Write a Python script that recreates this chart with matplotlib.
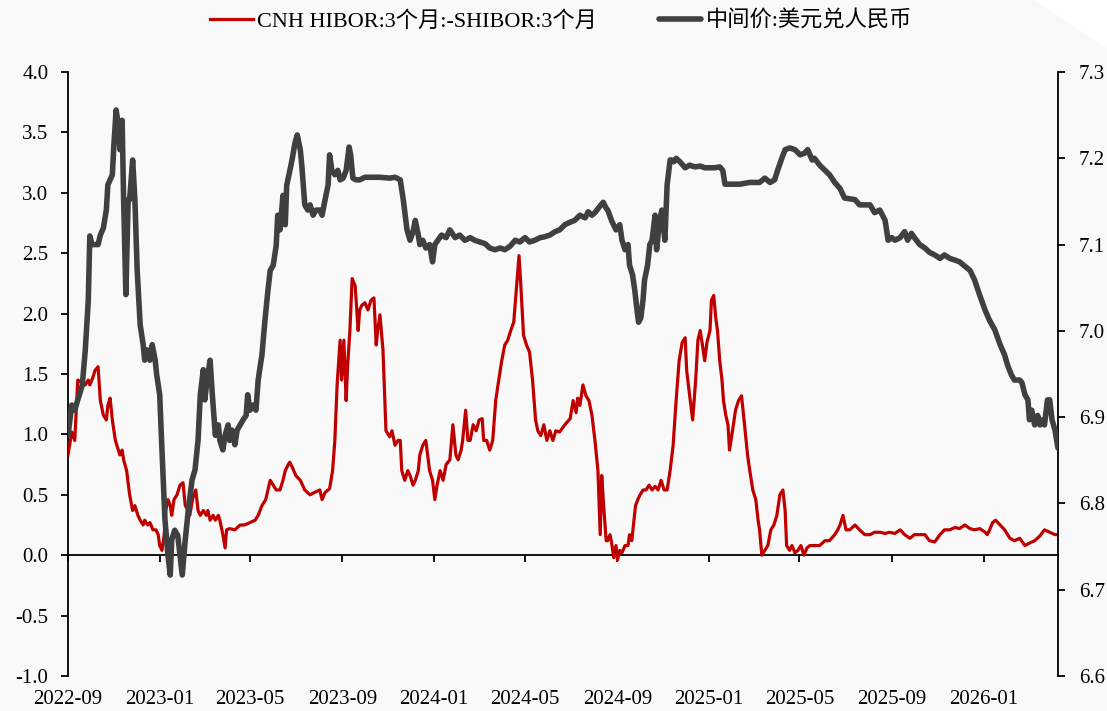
import matplotlib
matplotlib.use("Agg")
import matplotlib.pyplot as plt
import matplotlib.dates as mdates
from matplotlib.patches import Polygon
import pandas as pd

plt.rcParams['font.family'] = ['Liberation Serif', 'Noto Sans CJK SC', 'DejaVu Sans']
plt.rcParams['axes.unicode_minus'] = False

start_date = "2022-09-01"
end_offset = 1317

# Spread series: CNH HIBOR 3M - SHIBOR 3M (left axis); offsets in days from start_date
spread_days = [0, 5, 9, 13, 19, 23, 27, 29, 33, 36, 40, 43, 47, 51, 53, 56, 59, 63, 67, 69, 72, 74, 78, 82, 86, 89, 93, 96,
               100, 102, 106, 109, 113, 117, 120, 122, 125, 128, 130, 133, 136, 138, 141, 145, 149, 153, 156, 160, 162,
               166, 170, 173, 176, 180, 184, 186, 189, 193, 196, 200, 202, 206, 209, 211, 215, 222, 229, 235, 242, 249,
               253, 258, 263, 266, 269, 273, 277, 282, 286, 289, 293, 295, 299, 303, 309, 315, 322, 328, 335, 338, 342,
               348, 352, 355, 358, 362, 364, 367, 370, 372, 375, 378, 382, 386, 388, 391, 395, 399, 403, 407, 410, 412,
               415, 419, 423, 428, 431, 435, 439, 442, 444, 448, 452, 455, 459, 462, 466, 468, 472, 476, 481, 485, 488,
               491, 495, 499, 503, 508, 512, 516, 519, 523, 525, 529, 532, 535, 539, 543, 547, 551, 553, 557, 561, 565,
               569, 573, 577, 581, 585, 589, 593, 597, 600, 602, 606, 610, 614, 618, 622, 625, 629, 633, 637, 641, 645,
               649, 654, 661, 668, 672, 676, 678, 681, 685, 689, 693, 697, 701, 705, 708, 710, 713, 716, 718, 721, 723,
               726, 729, 731, 734, 737, 741, 745, 747, 750, 753, 755, 758, 761, 765, 769, 773, 777, 781, 785, 789, 793,
               797, 801, 805, 809, 813, 817, 821, 823, 827, 831, 835, 838, 841, 844, 847, 850, 854, 856, 859, 862, 864,
               867, 870, 872, 875, 878, 880, 884, 888, 892, 896, 900, 904, 907, 911, 915, 918, 920, 923, 927, 931, 935,
               939, 943, 947, 951, 954, 956, 960, 963, 967, 971, 975, 979, 983, 987, 993, 1000, 1007, 1013, 1020, 1024,
               1027, 1031, 1035, 1040, 1047, 1053, 1060, 1067, 1073, 1080, 1087, 1093, 1100, 1107, 1113, 1120, 1126,
               1133, 1140, 1146, 1153, 1160, 1166, 1173, 1180, 1186, 1193, 1200, 1206, 1213, 1220, 1223, 1226, 1230,
               1234, 1240, 1246, 1253, 1259, 1266, 1273, 1279, 1286, 1293, 1299, 1306, 1313, 1317]
spread_vals = [0.83, 1.02, 0.95, 1.45, 1.43, 1.41, 1.45, 1.41, 1.47, 1.53, 1.56, 1.28, 1.16, 1.12, 1.24, 1.30, 1.12, 0.95,
               0.87, 0.83, 0.87, 0.79, 0.70, 0.50, 0.37, 0.41, 0.33, 0.29, 0.25, 0.29, 0.25, 0.27, 0.21, 0.21, 0.17, 0.08,
               0.04, 0.17, 0.37, 0.46, 0.41, 0.33, 0.46, 0.50, 0.58, 0.60, 0.41, 0.37, 0.33, 0.47, 0.54, 0.37, 0.33, 0.37,
               0.33, 0.37, 0.29, 0.33, 0.29, 0.33, 0.29, 0.17, 0.06, 0.21, 0.22, 0.21, 0.25, 0.25, 0.27, 0.29, 0.33, 0.41,
               0.46, 0.54, 0.62, 0.58, 0.54, 0.54, 0.62, 0.70, 0.75, 0.77, 0.72, 0.66, 0.62, 0.54, 0.50, 0.52, 0.54, 0.46,
               0.52, 0.55, 0.70, 0.95, 1.41, 1.78, 1.45, 1.78, 1.28, 1.57, 1.86, 2.29, 2.23, 1.86, 2.03, 2.07, 2.09, 2.03,
               2.11, 2.13, 1.74, 1.86, 1.99, 1.70, 1.03, 0.98, 1.03, 0.91, 0.95, 0.95, 0.70, 0.62, 0.70, 0.66, 0.58, 0.62,
               0.70, 0.83, 0.91, 0.95, 0.70, 0.62, 0.46, 0.58, 0.70, 0.62, 0.75, 0.79, 1.08, 0.83, 0.79, 0.87, 0.95, 1.20,
               0.95, 0.95, 1.08, 1.03, 1.12, 1.13, 0.95, 0.95, 0.87, 0.95, 1.28, 1.45, 1.61, 1.74, 1.78, 1.86, 1.93, 2.24,
               2.48, 2.28, 1.82, 1.74, 1.68, 1.45, 1.12, 1.03, 0.99, 1.08, 0.95, 1.03, 0.95, 1.03, 1.02, 1.08, 1.13, 1.28,
               1.18, 1.30, 1.24, 1.41, 1.32, 1.28, 1.16, 0.95, 0.70, 0.17, 0.66, 0.37, 0.12, 0.12, 0.17, 0.11, -0.02, 0.08,
               -0.04, 0.04, 0.02, 0.08, 0.08, 0.17, 0.12, 0.29, 0.41, 0.46, 0.50, 0.54, 0.54, 0.58, 0.54, 0.57, 0.54, 0.62,
               0.54, 0.54, 0.70, 0.91, 1.28, 1.61, 1.76, 1.80, 1.53, 1.32, 1.12, 1.45, 1.78, 1.86, 1.74, 1.61, 1.76, 1.86,
               2.11, 2.15, 1.95, 1.86, 1.61, 1.45, 1.28, 1.16, 1.08, 0.87, 1.03, 1.20, 1.28, 1.32, 1.08, 0.83, 0.70, 0.54,
               0.46, 0.29, 0.21, 0.00, 0.04, 0.08, 0.21, 0.25, 0.33, 0.50, 0.54, 0.37, 0.08, 0.04, 0.08, 0.02, 0.04, 0.08,
               0.00, 0.06, 0.08, 0.08, 0.08, 0.12, 0.12, 0.17, 0.21, 0.25, 0.33, 0.21, 0.21, 0.25, 0.21, 0.17, 0.17, 0.19,
               0.19, 0.18, 0.19, 0.18, 0.21, 0.17, 0.14, 0.17, 0.17, 0.17, 0.12, 0.11, 0.17, 0.21, 0.21, 0.23, 0.22, 0.25,
               0.22, 0.21, 0.22, 0.19, 0.17, 0.21, 0.27, 0.29, 0.25, 0.21, 0.14, 0.12, 0.14, 0.08, 0.10, 0.12, 0.16, 0.21,
               0.19, 0.17, 0.17]

# USD/CNY central parity (right axis)
usd_days = [0, 5, 9, 13, 19, 23, 27, 29, 32, 40, 43, 47, 51, 53, 59, 61, 64, 67, 69, 72, 74, 77, 80, 82, 86, 89, 92, 96,
            100, 102, 105, 109, 112, 116, 118, 122, 125, 129, 133, 136, 138, 142, 146, 149, 152, 156, 160, 165, 169, 173,
            176, 180, 182, 185, 189, 192, 196, 200, 202, 206, 209, 213, 215, 218, 222, 225, 229, 233, 237, 239, 242, 246,
            250, 253, 255, 258, 262, 266, 269, 273, 277, 279, 282, 286, 289, 291, 294, 298, 302, 305, 309, 311, 315, 319,
            322, 326, 330, 335, 338, 342, 346, 348, 351, 355, 359, 362, 366, 370, 374, 376, 379, 383, 388, 395, 402, 415,
            428, 435, 442, 446, 451, 455, 459, 462, 466, 468, 472, 476, 481, 485, 488, 492, 497, 503, 508, 515, 521, 528,
            535, 541, 548, 555, 561, 568, 575, 581, 588, 595, 601, 608, 614, 621, 628, 634, 641, 648, 654, 661, 668, 674,
            681, 688, 692, 697, 701, 708, 712, 716, 718, 723, 729, 734, 737, 741, 745, 747, 751, 754, 757, 759, 762, 765,
            767, 771, 774, 777, 781, 783, 787, 790, 794, 797, 801, 803, 806, 809, 814, 821, 827, 834, 841, 847, 854, 860,
            867, 871, 874, 880, 894, 900, 907, 914, 920, 927, 934, 940, 944, 950, 954, 960, 967, 974, 980, 984, 990, 993,
            1000, 1007, 1013, 1020, 1027, 1033, 1040, 1047, 1053, 1060, 1067, 1073, 1080, 1087, 1091, 1096, 1100, 1107,
            1113, 1117, 1122, 1126, 1133, 1140, 1146, 1153, 1160, 1166, 1173, 1180, 1186, 1193, 1200, 1206, 1213, 1220,
            1226, 1233, 1240, 1246, 1250, 1255, 1259, 1266, 1269, 1273, 1277, 1279, 1282, 1286, 1290, 1293, 1297, 1299,
            1303, 1306, 1309, 1313, 1317]
usd_vals = [6.879, 6.914, 6.908, 6.920, 6.937, 6.978, 7.036, 7.110, 7.100, 7.100, 7.111, 7.119, 7.140, 7.169, 7.181, 7.215,
            7.256, 7.238, 7.210, 7.244, 7.152, 7.042, 7.152, 7.152, 7.198, 7.152, 7.071, 7.007, 6.984, 6.966, 6.978, 6.966,
            6.984, 6.966, 6.949, 6.926, 6.862, 6.781, 6.740, 6.717, 6.758, 6.769, 6.763, 6.740, 6.717, 6.758, 6.792, 6.827,
            6.839, 6.873, 6.926, 6.955, 6.920, 6.943, 6.966, 6.926, 6.879, 6.891, 6.873, 6.862, 6.879, 6.891, 6.873, 6.885,
            6.868, 6.885, 6.891, 6.897, 6.902, 6.926, 6.908, 6.914, 6.908, 6.943, 6.955, 6.972, 7.012, 7.047, 7.070, 7.076,
            7.099, 7.134, 7.117, 7.157, 7.123, 7.169, 7.181, 7.198, 7.218, 7.227, 7.210, 7.192, 7.146, 7.140, 7.146, 7.134,
            7.140, 7.140, 7.134, 7.152, 7.169, 7.204, 7.186, 7.181, 7.186, 7.175, 7.177, 7.186, 7.213, 7.204, 7.177, 7.175,
            7.175, 7.178, 7.178, 7.178, 7.177, 7.178, 7.175, 7.152, 7.117, 7.105, 7.115, 7.128, 7.111, 7.100, 7.105, 7.096,
            7.100, 7.080, 7.100, 7.105, 7.111, 7.108, 7.117, 7.108, 7.111, 7.105, 7.108, 7.105, 7.103, 7.101, 7.096, 7.094,
            7.096, 7.094, 7.098, 7.105, 7.103, 7.108, 7.103, 7.105, 7.108, 7.109, 7.111, 7.115, 7.117, 7.123, 7.126, 7.128,
            7.134, 7.131, 7.138, 7.134, 7.137, 7.145, 7.149, 7.142, 7.140, 7.128, 7.117, 7.123, 7.105, 7.094, 7.100, 7.076,
            7.065, 7.047, 7.024, 7.010, 7.015, 7.036, 7.059, 7.076, 7.100, 7.105, 7.134, 7.094, 7.128, 7.140, 7.105, 7.169,
            7.198, 7.198, 7.196, 7.200, 7.196, 7.189, 7.192, 7.190, 7.191, 7.189, 7.189, 7.189, 7.190, 7.186, 7.170, 7.170,
            7.170, 7.171, 7.172, 7.172, 7.172, 7.177, 7.172, 7.175, 7.186, 7.201, 7.210, 7.212, 7.210, 7.204, 7.206, 7.210,
            7.198, 7.200, 7.192, 7.186, 7.181, 7.172, 7.165, 7.154, 7.153, 7.152, 7.146, 7.146, 7.146, 7.137, 7.140, 7.128,
            7.105, 7.108, 7.105, 7.108, 7.115, 7.105, 7.113, 7.108, 7.100, 7.096, 7.091, 7.088, 7.084, 7.088, 7.084, 7.082,
            7.080, 7.075, 7.070, 7.059, 7.041, 7.024, 7.012, 7.001, 6.984, 6.972, 6.960, 6.949, 6.943, 6.943, 6.940, 6.926,
            6.920, 6.897, 6.908, 6.891, 6.902, 6.891, 6.897, 6.891, 6.920, 6.920, 6.897, 6.885, 6.864]

series_names = ["CNH HIBOR:3个月:-SHIBOR:3个月", "中间价:美元兑人民币"]
left_ticks = [-1.0, -0.5, 0.0, 0.5, 1.0, 1.5, 2.0, 2.5, 3.0, 3.5, 4.0]
right_ticks = [6.6, 6.7, 6.8, 6.9, 7.0, 7.1, 7.2, 7.3]
x_tick_dates = ["2022-09", "2023-01", "2023-05", "2023-09", "2024-01", "2024-05", "2024-09",
                "2025-01", "2025-05", "2025-09", "2026-01"]

base = pd.Timestamp(start_date)
spread_x = base + pd.to_timedelta(spread_days, unit="D")
usd_x = base + pd.to_timedelta(usd_days, unit="D")
xt = pd.to_datetime([d + "-01" for d in x_tick_dates])

bg = "#f9f9f9"
fig = plt.figure(figsize=(11.07, 7.11), dpi=100, facecolor=bg)
fig.patches.append(Polygon([[1035 / 1107, 1.0], [1.0, 1.0], [1.0, 1 - 48 / 711]], closed=True,
                           transform=fig.transFigure, facecolor="white", edgecolor="none", zorder=0))
ax = fig.add_axes([68 / 1107, 35 / 711, 990 / 1107, 604 / 711])
ax.set_facecolor("none")
ax2 = ax.twinx()

red = "#c00000"
dark = "#404040"
l1, = ax.plot(spread_x, spread_vals, color=red, lw=2.3, solid_joinstyle="round", zorder=3)
l2, = ax2.plot(usd_x, usd_vals, color=dark, lw=4.0, solid_joinstyle="round", solid_capstyle="round", zorder=3)

ax.set_xlim(base, base + pd.Timedelta(days=end_offset))
ax.set_ylim(-1.0, 4.0)
ax2.set_ylim(6.6, 7.3)
ax.set_yticks(left_ticks)
ax.set_yticklabels([f"{v:.1f}" for v in left_ticks])
ax2.set_yticks(right_ticks)
ax2.set_yticklabels([f"{v:.1f}" for v in right_ticks])

for a in (ax, ax2):
    for s in ("top", "bottom"):
        a.spines[s].set_visible(False)
ax.spines["right"].set_visible(False)
ax2.spines["left"].set_visible(False)
ax.spines["left"].set_linewidth(1.3)
ax2.spines["right"].set_linewidth(1.3)

ax.tick_params(axis="y", direction="out", length=5, width=1.3, labelsize=15, pad=9, colors="black")
ax2.tick_params(axis="y", direction="out", length=5, width=1.3, labelsize=15, pad=10, colors="black")

ax.set_xticks(xt)
ax.set_xticklabels(x_tick_dates)
ax.tick_params(axis="x", length=0, labelsize=15, pad=10)

# zero axis line with tick marks
sec = ax.secondary_xaxis(0.2)
sec.set_xticks(xt)
sec.set_xticklabels([""] * len(xt))
sec.tick_params(axis="x", direction="out", length=5, width=1.3)
sec.spines["bottom"].set_linewidth(1.3)

fig.legend([l1, l2], series_names, loc="center", bbox_to_anchor=(0.507, 0.970), ncol=2, frameon=False,
           fontsize=16, handlelength=1.9, handletextpad=0.2, columnspacing=2.8)

fig.savefig("out.png", dpi=100, facecolor=bg)
